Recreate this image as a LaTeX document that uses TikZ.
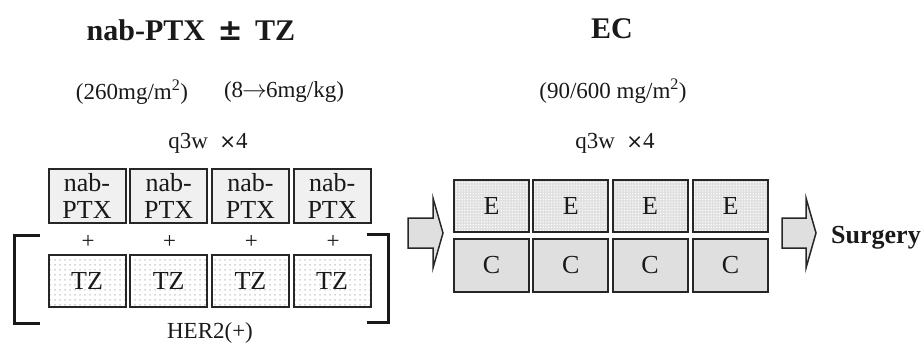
\documentclass[tikz,border=0pt]{standalone}
\usepackage{fontspec}
\setmainfont{Liberation Serif}
\newfontfamily\symfont{DejaVu Sans}
\usetikzlibrary{patterns.meta}
\begin{document}
\begin{tikzpicture}[x=1pt,y=-1pt,
  every node/.style={inner sep=0pt, text=black!90},
  boxtxt/.style={font=\fontsize{26}{27}\selectfont, align=center},
  nabbox/.style={boxtxt, draw=black!85, line width=2pt, fill=gray!12, minimum width=77pt, minimum height=54pt},
  tzbox/.style={boxtxt, draw=black!85, line width=2pt, preaction={fill=white}, pattern={Dots[distance=5pt, radius=0.75pt]}, pattern color=gray!65, minimum width=77pt, minimum height=52pt},
  ebox/.style={boxtxt, draw=black!85, line width=2pt, preaction={fill=gray!24}, pattern={Dots[distance=2.8pt, radius=0.75pt]}, pattern color=white, minimum width=75pt, minimum height=52pt},
  cbox/.style={boxtxt, draw=black!85, line width=2pt, fill=gray!25, minimum width=75pt, minimum height=53pt},
  bigarrow/.style={draw=black!85, line width=1.5pt, fill=gray!25, line join=miter},
  bracket/.style={draw=black!90, line width=3pt},
  titletxt/.style={font=\fontsize{30}{34}\selectfont\bfseries},
  dosetxt/.style={font=\fontsize{23}{26}\selectfont},
  plustxt/.style={font=\fontsize{23}{26}\selectfont}
]
\useasboundingbox (0,0) rectangle (922,345);

% titles
\node[titletxt] (t1) at (191,30) {nab-PTX\, {\symfont\fontsize{30}{34}\selectfont\bfseries\char"00B1}\, TZ};
\node[titletxt] (t2) at (612,29) {EC};

% doses
\node[dosetxt] (d1) at (132,92) {(260mg/m\textsuperscript{2})};
\node[dosetxt] (d2) at (284,92) {(8\kern-1pt$\rightarrow$\kern-1pt6mg/kg)};
\node[dosetxt] (d3) at (613,91) {(90/600 mg/m\textsuperscript{2})};
\node[dosetxt] (q1) at (208,143) {q3w\ \ {\symfont\fontsize{20}{24}\selectfont\char"00D7}4};
\node[dosetxt] (q2) at (615,143) {q3w\ \ {\symfont\fontsize{20}{24}\selectfont\char"00D7}4};

% nab-PTX boxes
\foreach \i/\x in {1/87,2/168.7,3/250.4,4/332.1}{
  \node[nabbox] (n\i) at (\x,196) {nab-\\PTX};
  \node[plustxt] (p\i) at (\x+1,242) {+};
  \node[tzbox] (tz\i) at (\x,281) {TZ};
}

% brackets
\draw[bracket] (40,235) -- (14,235) -- (14,323) -- (40,323);
\draw[bracket] (367,234) -- (388,234) -- (388,322) -- (367,322);
\node[dosetxt] (her) at (210,333) {HER2(+)};

% EC boxes
\foreach \i/\x in {1/491.5,2/570.8,3/650.1,4/730.5}{
  \node[ebox] (e\i) at (\x,206) {E};
  \node[cbox] (c\i) at (\x,265.5) {C};
}

% block arrows
\draw[bigarrow] (408,218) -- (433,218) -- (433,198) -- (443,233) -- (433,268) -- (433,248) -- (408,248) -- cycle;
\draw[bigarrow] (782,218) -- (806,218) -- (806,198) -- (816,233) -- (806,268) -- (806,248) -- (782,248) -- cycle;

\node[font=\fontsize{26}{28}\selectfont\bfseries] (s) at (876,238) {Surgery};
\end{tikzpicture}
\end{document}
